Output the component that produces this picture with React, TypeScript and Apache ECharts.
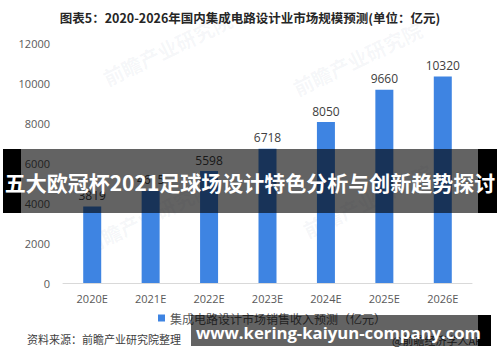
import React, { useEffect, useRef } from "react";
import * as echarts from "echarts";

const categories = ["2020E", "2021E", "2022E", "2023E", "2024E", "2025E", "2026E"];
const values = [3819, 4615, 5598, 6718, 8050, 9660, 10320];
const yTicks = [0, 2000, 4000, 6000, 8000, 10000, 12000];
const titleText = "图表5：2020-2026年国内集成电路设计业市场规模预测(单位：亿元)";
const legendName = "集成电路设计市场销售收入预测（亿元）";
const sourceText = "资料来源：前瞻产业研究院整理";
const appText = "@前瞻经济学人APP";
const bannerText = "五大欧冠杯2021足球场设计特色分析与创新趋势探讨";
const urlText = "www.kering-kaiyun-company.com";
const watermark = "前瞻产业研究院";

const CJK = '"Noto Sans CJK SC", "Noto Sans", sans-serif';
const LATIN = '"Open Sans", "Noto Sans CJK SC", sans-serif';

export default function App() {
  const ref = useRef<HTMLDivElement>(null);
  useEffect(() => {
    if (!ref.current) return;
    const chart = echarts.init(ref.current, undefined, { renderer: "svg" });
    const wm = (x: number, y: number) => ({
      type: "text",
      x,
      y,
      rotation: Math.PI / 7,
      z: 0,
      silent: true,
      style: { text: watermark, fill: "rgba(120,140,160,0.07)", font: `bold 20px ${CJK}` },
    });
    chart.setOption({
      animation: false,
      backgroundColor: "#ffffff",
      title: {
        text: titleText,
        left: "center",
        top: 6,
        textStyle: { fontSize: 12.5, fontWeight: "bold", color: "#262626", fontFamily: CJK },
      },
      grid: { left: 63, right: 28, top: 43, bottom: 79 },
      legend: {
        data: [legendName],
        bottom: 33,
        left: 153,
        icon: "rect",
        itemWidth: 7,
        itemHeight: 7,
        itemGap: 4,
        textStyle: { fontSize: 12, color: "#595959", fontFamily: CJK },
      },
      xAxis: {
        type: "category",
        data: categories,
        axisLine: { lineStyle: { color: "#d9d9d9" } },
        axisTick: { show: false },
        axisLabel: { color: "#595959", fontSize: 11, fontFamily: LATIN, margin: 10 },
      },
      yAxis: {
        type: "value",
        min: yTicks[0],
        max: yTicks[yTicks.length - 1],
        interval: 2000,
        splitLine: { show: false },
        axisLine: { show: false },
        axisTick: { show: false },
        axisLabel: {
          color: "#595959",
          fontSize: 11,
          fontFamily: LATIN,
          margin: 13,
          formatter: (v: number) => String(v),
        },
      },
      series: [
        {
          name: legendName,
          type: "bar",
          data: values,
          barWidth: 18,
          itemStyle: { color: "#3e84e2" },
          label: {
            show: true,
            position: "top",
            distance: 5,
            color: "#404040",
            fontSize: 12,
            fontFamily: LATIN,
          },
        },
      ],
      graphic: [
        wm(100, 70),
        wm(290, 80),
        wm(80, 238),
        wm(300, 222),
        {
          type: "text",
          left: 27,
          top: 333,
          style: { text: sourceText, fill: "#404040", font: `11px ${CJK}` },
        },
        {
          type: "text",
          right: 11,
          top: 334,
          style: { text: appText, fill: "#404040", font: `11px ${CJK}` },
        },
        { type: "rect", shape: { x: 3, y: 149, width: 18, height: 64 }, style: { fill: "#000" }, z: 100 },
        { type: "rect", shape: { x: 478, y: 149, width: 19, height: 64 }, style: { fill: "#000" }, z: 100 },
        { type: "rect", shape: { x: 21, y: 149, width: 457, height: 64 }, style: { fill: "rgba(0,0,0,0.61)" }, z: 100 },
        {
          type: "text",
          x: 250,
          y: 182,
          z: 101,
          style: {
            text: bannerText,
            fill: "#fff",
            font: `bold 21px ${CJK}`,
            align: "center",
            verticalAlign: "middle",
          },
        },
        { type: "rect", shape: { x: 191, y: 315, width: 287, height: 31 }, style: { fill: "rgba(0,0,0,0.61)" }, z: 100 },
        { type: "rect", shape: { x: 478, y: 315, width: 13, height: 31 }, style: { fill: "#000" }, z: 100 },
        {
          type: "text",
          x: 338.5,
          y: 332,
          z: 101,
          style: {
            text: urlText,
            fill: "#fff",
            font: `bold 16.7px "Open Sans", "DejaVu Sans", sans-serif`,
            align: "center",
            verticalAlign: "middle",
          },
        },
      ],
    });
    return () => chart.dispose();
  }, []);
  return (
    <div
      ref={ref}
      style={{ position: "fixed", left: 0, top: 0, width: 500, height: 362 }}
    />
  );
}
